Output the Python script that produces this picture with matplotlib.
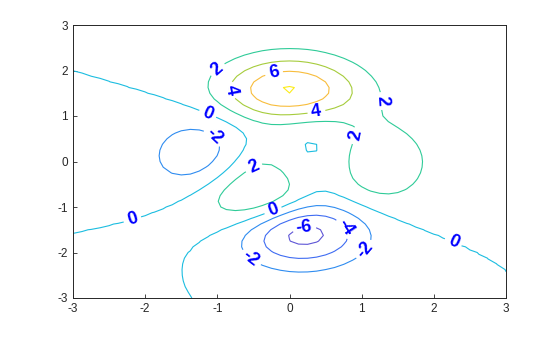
import numpy as np
import matplotlib
matplotlib.use("Agg")
import matplotlib.pyplot as plt

# grid and surface (MATLAB peaks)
n_points = 49
x_range = [-3, 3]
y_range = [-3, 3]
levels = [-6, -4, -2, 0, 2, 4, 6, 8]
tick_values = [-3, -2, -1, 0, 1, 2, 3]

# approximate label spots
label_spots = [(-0.22, 1.99), (-0.99, 2.01), (-0.78, 1.57), (0.37, 1.13),
               (1.28, 1.33), (0.89, 0.58), (-1.14, 1.02), (-1.07, 0.49),
               (-0.49, -0.16), (-0.23, -1.07), (0.21, -1.51), (0.73, -1.51),
               (-0.55, -2.16), (1.05, -1.95), (-2.18, -1.26), (2.27, -1.77)]

# line colour per level (parula-like)
level_colors = ['#5e55d6', '#3f6cf2', '#2f8cf0', '#1cbde0',
                '#2fcb98', '#a6cc3c', '#f8bd3c', '#fcec18']

x = np.linspace(x_range[0], x_range[1], n_points)
y = np.linspace(y_range[0], y_range[1], n_points)
X, Y = np.meshgrid(x, y)
Z = (3 * (1 - X) ** 2 * np.exp(-X ** 2 - (Y + 1) ** 2)
     - 10 * (X / 5 - X ** 3 - Y ** 5) * np.exp(-X ** 2 - Y ** 2)
     - 1 / 3 * np.exp(-(X + 1) ** 2 - Y ** 2))

plt.rcParams['font.family'] = ['Liberation Sans', 'DejaVu Sans']
plt.rcParams['axes.unicode_minus'] = False
fig = plt.figure(figsize=(5.6, 3.37), dpi=100)
ax = fig.add_axes([73 / 560, 39 / 337, 433 / 560, 273 / 337])

cs = ax.contour(X, Y, Z, levels=levels, colors=level_colors, linewidths=0.8)
lbls = ax.clabel(cs, fmt='%d', inline=True, fontsize=13, colors='blue',
                 manual=label_spots, inline_spacing=4)
for t in lbls:
    t.set_fontweight('bold')

ax.set_xlim(x_range)
ax.set_ylim(y_range)
ax.set_xticks(tick_values)
ax.set_yticks(tick_values)
ax.tick_params(direction='in', length=3, width=0.6, labelsize=8.5,
               colors='#262626', top=False, right=False)
for s in ax.spines.values():
    s.set_linewidth(0.7)
    s.set_color('#262626')

fig.savefig("out.png", dpi=100)
